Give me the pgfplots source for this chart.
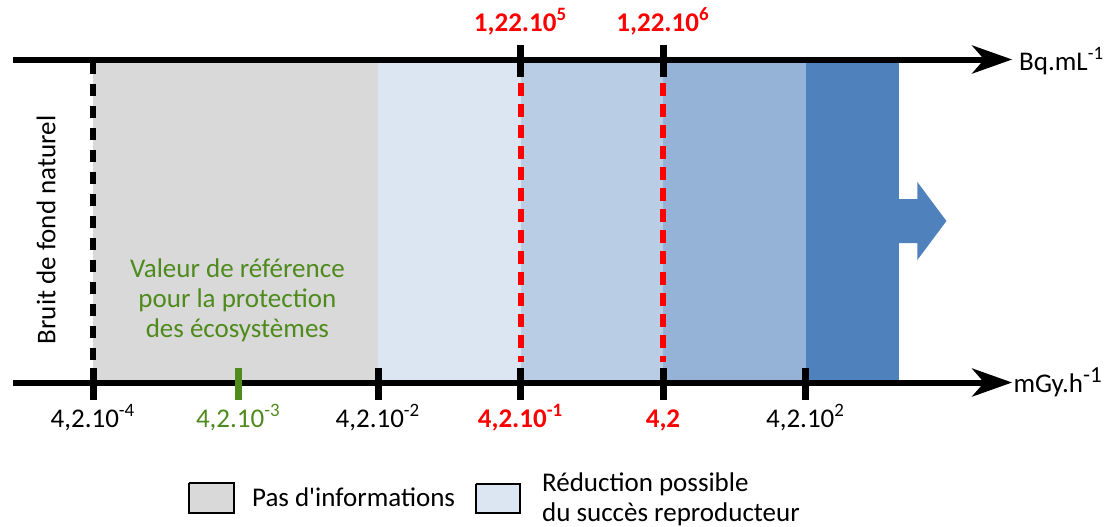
\documentclass[border=0pt]{standalone}
\usepackage{fontspec}
\setmainfont{Carlito}
\usepackage{pgfplots}
\pgfplotsset{compat=1.18}
\usetikzlibrary{arrows.meta}
\definecolor{cgray}{HTML}{D9D9D9}
\definecolor{cb1}{HTML}{DCE6F2}
\definecolor{cb2}{HTML}{B9CDE5}
\definecolor{cb3}{HTML}{95B3D7}
\definecolor{cb4}{HTML}{4F81BD}
\definecolor{cred}{HTML}{FF0000}
\definecolor{cgreen}{HTML}{4E8A1C}
\newcommand\f{\fontsize{13.5}{15}\selectfont}
\newcommand\sq{{\addfontfeatures{Ligatures=TeXOff}'}}
\begin{document}
\begin{tikzpicture}
\begin{axis}[name=ax,
  width=558.5pt, height=263pt, scale only axis, hide axis, clip=false,
  xmin=-0.65263, xmax=7.18596, ymin=0, ymax=526, y dir=reverse]
% bands (x = decade index: 0 -> 4,2.10^-4 ... 5 -> 4,2.10^2)
\addplot[fill=cgray, draw=none] coordinates {(0,62) (2,62) (2,381) (0,381)};
\addplot[fill=cb1, draw=none] coordinates {(2,62) (3,62) (3,381) (2,381)};
\addplot[fill=cb2, draw=none] coordinates {(3,62) (4,62) (4,381) (3,381)};
\addplot[fill=cb3, draw=none] coordinates {(4,62) (5,62) (5,381) (4,381)};
\addplot[fill=cb4, draw=none] coordinates {(5,62) (5.659,62) (5.659,381) (5,381)};
\addplot[fill=cb4, draw=none] coordinates {(5.655,199) (5.785,199) (5.785,182) (5.989,221) (5.785,260) (5.785,243) (5.655,243)};
% dashed lines
\addplot[line width=3pt, black, dash pattern=on 6pt off 5pt] coordinates {(0,62) (0,380)};
\addplot[line width=3pt, cred, dash pattern=on 6.5pt off 4pt] coordinates {(3,83) (3,362)};
\addplot[line width=3pt, cred, dash pattern=on 6.5pt off 4pt] coordinates {(4,83) (4,362)};
% axis lines
\addplot[line width=3pt, black, -{Stealth[length=20pt,width=14pt,inset=6pt]}] coordinates {(-0.561,59.5) (6.45,59.5)};
\addplot[line width=3pt, black, -{Stealth[length=20pt,width=14pt,inset=6pt]}] coordinates {(-0.561,382.5) (6.45,382.5)};
% ticks
\addplot[line width=3.5pt, black] coordinates {(3,45) (3,77)};
\addplot[line width=3.5pt, black] coordinates {(4,45) (4,77)};
\addplot[line width=3.5pt, black] coordinates {(0,368) (0,400)};
\addplot[line width=3.5pt, black] coordinates {(2,368) (2,400)};
\addplot[line width=3.5pt, black] coordinates {(3,368) (3,400)};
\addplot[line width=3.5pt, black] coordinates {(4,368) (4,400)};
\addplot[line width=3.5pt, black] coordinates {(5,368) (5,400)};
\addplot[line width=3.5pt, cgreen] coordinates {(1.02,368) (1.02,400)};
% legend boxes
\addplot[fill=cgray, draw=black, line width=1pt] coordinates {(0.674,483) (0.989,483) (0.989,513) (0.674,513) (0.674,483)};
\addplot[fill=cb1, draw=black, line width=1pt] coordinates {(2.688,484) (2.996,484) (2.996,513) (2.688,513) (2.688,484)};
% texts
\node[anchor=base, cred, font=\f\bfseries] at (axis cs:3,31) {1,22.10\textsuperscript{5}};
\node[anchor=base, cred, font=\f\bfseries] at (axis cs:4,31) {1,22.10\textsuperscript{6}};
\node[anchor=base west, font=\f] at (axis cs:6.45,70) {Bq.mL\textsuperscript{-1}};
\node[anchor=base west, font=\f] at (axis cs:6.41,392) {mGy.h\raisebox{0.75ex}{\fontsize{11.5}{13}\selectfont -1}};
\node[anchor=base, font=\f] at (axis cs:0,427) {4,2.10\textsuperscript{-4}};
\node[anchor=base, cgreen, font=\f] at (axis cs:1.02,427) {4,2.10\textsuperscript{-3}};
\node[anchor=base, font=\f] at (axis cs:2,427) {4,2.10\textsuperscript{-2}};
\node[anchor=base, cred, font=\f\bfseries] at (axis cs:3,427) {4,2.10\textsuperscript{-1}};
\node[anchor=base, cred, font=\f\bfseries] at (axis cs:4,427) {4,2};
\node[anchor=base, font=\f] at (axis cs:5,427) {4,2.10\textsuperscript{2}};
\node[rotate=90, font=\f] at (axis cs:-0.330,230) {Bruit de fond naturel};
\node[align=center, cgreen, font=\f] at (axis cs:1.013,300) {Valeur de référence\\pour la protection\\des écosystèmes};
\node[anchor=base west, font=\f] at (axis cs:1.067,506) {Pas d\sq informations};
\node[anchor=base west, font=\f] at (axis cs:3.102,491) {Réduction possible};
\node[anchor=base west, font=\f] at (axis cs:3.102,521) {du succès reproducteur};
\end{axis}
\pgfresetboundingbox
\path[use as bounding box] (ax.south west) rectangle (ax.north east);
\end{tikzpicture}
\end{document}
